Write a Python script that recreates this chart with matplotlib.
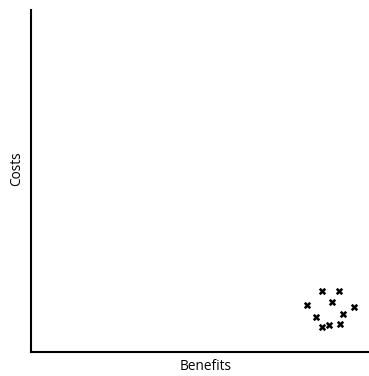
import matplotlib.pyplot as plt

plt.rcParams['font.family'] = ['Open Sans', 'DejaVu Sans']

# benefit / cost of each option (arbitrary units)
benefits = [290.7, 308, 275.7, 301.3, 323, 285, 312.3, 290.7, 298.3, 309]
costs = [61, 61, 47, 49.7, 44.7, 35.3, 38.3, 25.3, 27, 28]

W, H = 369, 376
fig = plt.figure(figsize=(W / 100, H / 100), dpi=100)
ax = fig.add_axes([31 / W, 1 - 352 / H, 338 / W, 342 / H])

ax.scatter(benefits, costs, marker='X', s=28, color='black', linewidths=0)

ax.set_xlim(0, 338)
ax.set_ylim(0, 342)
ax.set_xticks([])
ax.set_yticks([])
for side in ['top', 'right']:
    ax.spines[side].set_visible(False)
for side in ['left', 'bottom']:
    ax.spines[side].set_linewidth(1.5)

fig.text(206 / W, 1 - 367 / H, 'Benefits', ha='center', va='center', fontsize=9.8)
fig.text(17 / W, 1 - 169 / H, 'Costs', ha='center', va='center', rotation=90, fontsize=9.8)

plt.savefig('out.png', dpi=100)
